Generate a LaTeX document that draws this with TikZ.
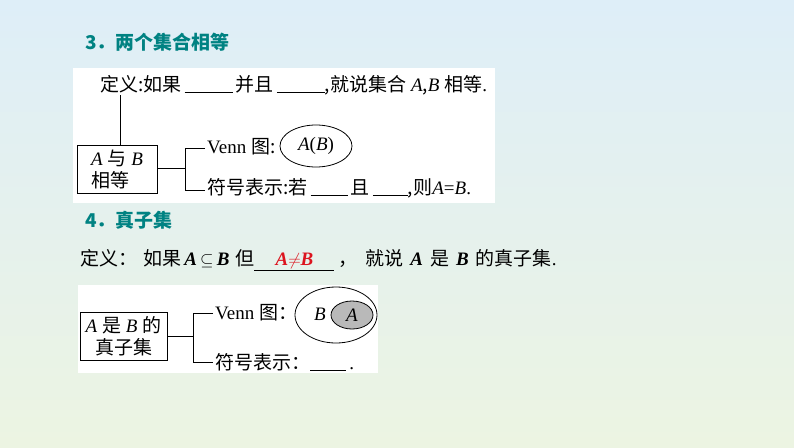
\documentclass[tikz,border=0pt]{standalone}
\usetikzlibrary{shapes.geometric}
\usepackage{fontspec}
\setmainfont{Liberation Serif}
\newfontfamily\cjk{Noto Sans CJK SC}
\definecolor{teal1}{RGB}{0,130,130}
\definecolor{red1}{RGB}{220,20,30}
\begin{document}
\begin{tikzpicture}[x=1pt,y=-1pt,
  txt/.style={anchor=west,inner sep=0pt,font=\fontsize{19}{21}\selectfont},
  ttl/.style={anchor=west,inner sep=0pt,font=\fontsize{19}{21}\selectfont\cjk\bfseries,text=teal1},
  panel/.style={fill=white,draw=none},
  bx/.style={draw,line width=0.8pt,minimum width=80pt,minimum height=48pt,inner sep=2pt,align=left,font=\fontsize{19}{22}\selectfont},
  ln/.style={line width=0.8pt}]
\useasboundingbox (0,0) rectangle (794,447);
\shade[top color={rgb,255:red,222;green,238;blue,248},bottom color={rgb,255:red,236;green,244;blue,226}] (0,0) rectangle (794,447);
\node[ttl] (t3) at (85,42) {3．两个集合相等};
\fill[panel] (73,68) rectangle (495,203);
\node[txt] (d1) at (100,85) {{\cjk 定义:如果}\,\underline{\hspace{48pt}}\,{\cjk 并且}\,\underline{\hspace{48pt}}{\cjk ,就说集合} \textit{A}{\cjk ,}\textit{B} {\cjk 相等}.};
\node[bx] (b1) at (117,169) {\textit{A} {\cjk 与} \textit{B}\\{\cjk 相等}};
\coordinate (v1) at (120,95);
\draw[ln] (v1) -- (b1.north -| v1);
\coordinate (j1) at (185,168);
\draw[ln] (b1.east |- j1) -- (j1);
\draw[ln] (205,148) -- (185,148) -- (185,190) -- (205,190);
\node[txt] (venn1) at (207,147) {Venn {\cjk 图:}};
\node[draw,ellipse,line width=0.8pt,minimum width=72pt,minimum height=42pt,inner sep=0pt,font=\fontsize{19}{21}\selectfont] (e1) at (316,146) {\textit{A}(\textit{B})};
\node[txt] (s1) at (207,188) {{\cjk 符号表示:若}\,\underline{\hspace{37pt}}\,{\cjk 且}\,\underline{\hspace{35pt}}{\cjk ,则}\textit{A}=\textit{B}.};
\node[ttl] (t4) at (85,220) {4．真子集};
\node[txt] (d2) at (80,260) {{\cjk 定义：\hspace{6pt}如果}\,\textbf{\textit{A}}\,$\subseteq$\,\textbf{\textit{B}}\hspace{6pt}{\cjk 但}\underline{\makebox[80pt]{\textcolor{red1}{\textbf{\textit{A}}$\neq$\textbf{\textit{B}}}}}\hspace{4pt}{\cjk ，\hspace{8pt}就说}\hspace{7pt}\textbf{\textit{A}}\hspace{7pt}{\cjk 是}\hspace{7pt}\textbf{\textit{B}}\hspace{7pt}{\cjk 的真子集}.};
\fill[panel] (78,285) rectangle (378,373);
\node[bx,minimum width=87pt] (b2) at (123.5,336) {\textit{A} {\cjk 是} \textit{B} {\cjk 的}\\\ \ {\cjk 真子集}};
\coordinate (j2) at (193,336);
\draw[ln] (b2.east |- j2) -- (j2);
\draw[ln] (213,313) -- (193,313) -- (193,362) -- (213,362);
\node[txt] (venn2) at (215,313) {Venn {\cjk 图：}};
\node[draw,ellipse,line width=0.8pt,minimum width=82pt,minimum height=56pt,inner sep=0pt] (e2) at (336,315) {};
\node[draw,ellipse,fill=gray!55,line width=0.8pt,minimum width=42pt,minimum height=28pt,inner sep=0pt,font=\fontsize{19}{21}\selectfont] (e3) at (352,315) {\textit{A}};
\node[inner sep=0pt,font=\fontsize{19}{21}\selectfont] (lb) at (320,314) {\textit{B}};
\node[txt] (s2) at (215,362) {{\cjk 符号表示：}\underline{\hspace{36pt}}\,.};
\end{tikzpicture}
\end{document}
